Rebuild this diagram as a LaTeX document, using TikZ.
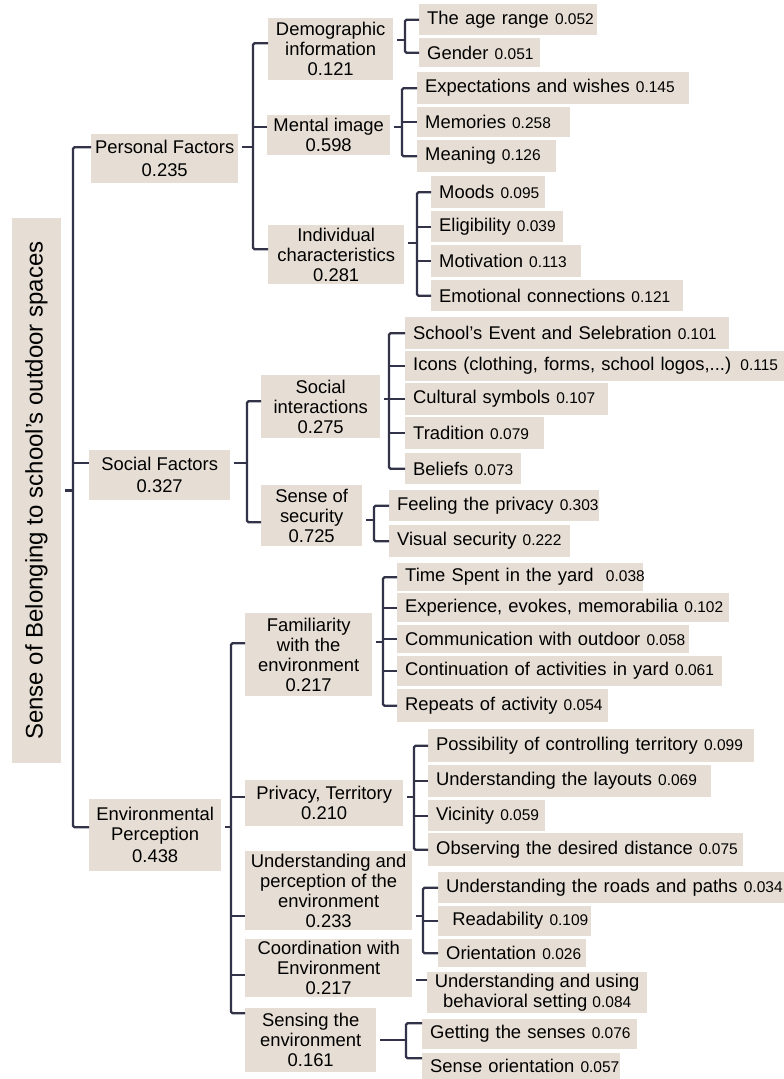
\documentclass[tikz,border=0pt]{standalone}
\usepackage{fontspec}
\setmainfont{Liberation Sans}
\definecolor{boxfill}{RGB}{230,222,212}
\definecolor{linec}{RGB}{50,50,72}
\newcommand\nm[1]{{\fontsize{15.5}{18}\selectfont #1}}
\begin{document}
\begin{tikzpicture}[x=1pt,y=-1pt,
 base/.style={fill=boxfill, anchor=north west, inner sep=0pt, font=\fontsize{18.4}{20}\selectfont},
 mid/.style={base, align=center},
 leaf/.style={base, inner xsep=8pt, align=left},
 conn/.style={draw=linec, line width=2.2pt, rounded corners=1.5pt},
 pstub/.style={conn, shorten <=4pt}]
\useasboundingbox (0,0) rectangle (784,1079);

% root
\node[fill=boxfill, inner sep=0pt, rotate=90, minimum width=545pt, minimum height=49pt,
  font=\fontsize{24}{26}\selectfont] (root) at (36.5,490.5) {Sense of Belonging to school's outdoor spaces};

% level 1
\node[mid, minimum width=147pt, minimum height=49pt] (pf) at (91,134) {Personal Factors\\[3pt]0.235};
\node[mid, minimum width=141pt, minimum height=50pt] (sf) at (89,450) {Social Factors\\[2pt]0.327};
\node[mid, minimum width=132pt, minimum height=72pt] (ep) at (89,799) {Environmental\\Perception\\[2pt]0.438};

% level 2
\node[mid, minimum width=125pt, minimum height=62pt] (di) at (268,18) {Demographic\\information\\0.121};
\node[mid, minimum width=123pt, minimum height=40pt] (mi) at (267,115) {Mental image\\0.598};
\node[mid, minimum width=136pt, minimum height=59pt] (ic) at (268,225) {Individual\\characteristics\\0.281};
\node[mid, minimum width=119pt, minimum height=63pt] (si) at (261,375) {Social\\interactions\\0.275};
\node[mid, minimum width=101pt, minimum height=61pt] (ss) at (261,485) {Sense of\\security\\0.725};
\node[mid, minimum width=127pt, minimum height=83pt] (fe) at (245,613) {Familiarity\\with the\\environment\\0.217};
\node[mid, minimum width=158pt, minimum height=46pt] (pt) at (245,780) {Privacy, Territory\\0.210};
\node[mid, minimum width=167pt, minimum height=79pt] (up) at (245,851) {Understanding and\\perception of the\\environment\\0.233};
\node[mid, minimum width=167pt, minimum height=58pt] (ce) at (245,939) {Coordination with\\Environment\\0.217};
\node[mid, minimum width=131pt, minimum height=64pt] (se) at (245,1008) {Sensing the\\environment\\0.161};

% leaves
\node[leaf, text width=162pt, minimum height=31pt] (age) at (419,4) {\mbox{The age range \nm{0.052}}};
\node[leaf, text width=105pt, minimum height=29pt] (gender) at (419,38) {\mbox{Gender \nm{0.051}}};
\node[leaf, text width=256pt, minimum height=32pt] (expect) at (417,72) {\mbox{Expectations and wishes\ \nm{0.145}}};
\node[leaf, text width=137pt, minimum height=30pt] (memories) at (417,107) {\mbox{Memories\ \nm{0.258}}};
\node[leaf, text width=123pt, minimum height=32pt] (meaning) at (417,140) {\mbox{Meaning\ \nm{0.126}}};
\node[leaf, text width=98pt, minimum height=32pt] (moods) at (431,176) {\mbox{Moods \nm{0.095}}};
\node[leaf, text width=116pt, minimum height=31pt] (elig) at (431,211) {\mbox{Eligibility \nm{0.039}}};
\node[leaf, text width=134pt, minimum height=32pt] (motiv) at (431,245) {\mbox{Motivation\ \nm{0.113}}};
\node[leaf, text width=236pt, minimum height=31pt] (emot) at (431,280) {\mbox{Emotional connections\ \nm{0.121}}};
\node[leaf, text width=308pt, minimum height=32pt] (school) at (405,317) {\mbox{School's Event and Selebration\ \nm{0.101}}};
\node[leaf, text width=363pt, minimum height=30pt] (icons) at (405,351) {\mbox{Icons (clothing, forms, school logos,...) \nm{0.115}}};
\node[leaf, text width=187pt, minimum height=32pt] (cultural) at (405,383) {\mbox{Cultural symbols \nm{0.107}}};
\node[leaf, text width=123pt, minimum height=32pt] (tradition) at (405,417) {\mbox{Tradition\ \nm{0.079}}};
\node[leaf, text width=100pt, minimum height=31pt] (beliefs) at (405,453) {\mbox{Beliefs \nm{0.073}}};
\node[leaf, text width=194pt, minimum height=31pt] (feeling) at (389,490) {\mbox{Feeling the privacy \nm{0.303}}};
\node[leaf, text width=165pt, minimum height=32pt] (visual) at (389,525) {\mbox{Visual security \nm{0.222}}};
\node[leaf, text width=230pt, minimum height=28pt] (time) at (397,563) {\mbox{Time Spent in the yard\ \ \nm{0.038}}};
\node[leaf, text width=316pt, minimum height=29pt] (exper) at (397,593) {\mbox{Experience, evokes, memorabilia \nm{0.102}}};
\node[leaf, text width=276pt, minimum height=28pt] (commun) at (397,625) {\mbox{Communication with outdoor \nm{0.058}}};
\node[leaf, text width=309pt, minimum height=30pt] (contin) at (397,656) {\mbox{Continuation of activities in yard \nm{0.061}}};
\node[leaf, text width=195pt, minimum height=33pt] (repeats) at (397,689) {\mbox{Repeats of activity \nm{0.054}}};
\node[leaf, text width=310pt, minimum height=33pt] (possib) at (428,729) {\mbox{Possibility of controlling territory \nm{0.099}}};
\node[leaf, text width=267pt, minimum height=32pt] (layouts) at (428,765) {\mbox{Understanding the layouts\ \nm{0.069}}};
\node[leaf, text width=101pt, minimum height=31pt] (vicinity) at (428,800) {\mbox{Vicinity \nm{0.059}}};
\node[leaf, text width=299pt, minimum height=33pt] (observing) at (428,833) {\mbox{Observing the desired distance \nm{0.075}}};
\node[leaf, text width=330pt, minimum height=31pt] (roads) at (438,872) {\mbox{Understanding the roads and paths\ \nm{0.034}}};
\node[leaf, text width=137pt, minimum height=30pt] (readab) at (438,906) {\mbox{\ Readability \nm{0.109}}};
\node[leaf, text width=132pt, minimum height=28pt] (orient) at (438,939) {\mbox{Orientation\ \nm{0.026}}};
\node[mid, minimum width=220pt, minimum height=41pt] (behav) at (427,972) {Understanding and using\\behavioral setting \nm{0.084}};
\node[leaf, text width=199pt, minimum height=30pt] (senses) at (422,1019) {\mbox{Getting the senses\ \nm{0.076}}};
\node[leaf, text width=182pt, minimum height=26pt] (senseor) at (422,1053) {\mbox{Sense orientation \nm{0.057}}};

% connection points
\coordinate (pf-w) at ([yshift=11.5pt]pf.west); \coordinate (pf-e) at ([yshift=11.5pt]pf.east);
\coordinate (sf-w) at ([yshift=12pt]sf.west);   \coordinate (sf-e) at ([yshift=12pt]sf.east);
\coordinate (ep-w) at ([yshift=8pt]ep.west);    \coordinate (ep-e) at ([yshift=8pt]ep.east);
\coordinate (di-w) at ([yshift=6pt]di.west);    \coordinate (di-e) at ([yshift=9pt]di.east);
\coordinate (mi-w) at ([yshift=8pt]mi.west);    \coordinate (mi-e) at ([yshift=8pt]mi.east);
\coordinate (ic-w) at ([yshift=5.5pt]ic.west);  \coordinate (ic-e) at ([yshift=11.5pt]ic.east);
\coordinate (si-w) at ([yshift=5.5pt]si.west);  \coordinate (si-e) at ([yshift=7.5pt]si.east);
\coordinate (ss-w) at ([yshift=-6.5pt]ss.west); \coordinate (ss-e) at ([yshift=-4.5pt]ss.east);
\coordinate (fe-w) at ([yshift=11.5pt]fe.west); \coordinate (fe-e) at ([yshift=12.5pt]fe.east);
\coordinate (pt-w) at ([yshift=6pt]pt.west);    \coordinate (pt-e) at ([yshift=6pt]pt.east);
\coordinate (up-w) at ([yshift=-25.5pt]up.west);\coordinate (up-e) at ([yshift=-25.5pt]up.east);
\coordinate (ce-w) at ([yshift=-7pt]ce.west);   \coordinate (ce-e) at ([yshift=-12pt]ce.east);
\coordinate (se-w) at ([yshift=27pt]se.west);   \coordinate (se-e) at (se.east);
\coordinate (behav-w) at ([yshift=12.5pt]behav.west);
\coordinate (senses-w) at ([yshift=11pt]senses.west);
\coordinate (senseor-w) at ([yshift=8pt]senseor.west);

% bus lines
\coordinate (bT) at (73,0);   \coordinate (bPF) at (253,0); \coordinate (bDI) at (405,0);
\coordinate (bMI) at (402,0); \coordinate (bIC) at (417,0); \coordinate (bSF) at (247,0);
\coordinate (bSI) at (389,0); \coordinate (bSS) at (374,0); \coordinate (bEP) at (231,0);
\coordinate (bFE) at (383,0); \coordinate (bPT) at (414,0); \coordinate (bUP) at (423,0);
\coordinate (bSE) at (406,0);

% trunk
\draw[pstub] (root.south) -- (bT |- root.south);
\draw[conn] (pf-w) -| (bT |- ep-w) -- (ep-w);
\draw[conn] (bT |- sf-w) -- (sf-w);

% personal
\draw[pstub] (pf-e) -- (bPF |- pf-e);
\draw[conn] (di-w) -| (bPF |- ic-w) -- (ic-w);
\draw[conn] (bPF |- mi-w) -- (mi-w);

\draw[pstub] (di-e) -- (bDI |- di-e);
\draw[conn] (age.west) -| (bDI |- gender.west) -- (gender.west);

\draw[pstub] (mi-e) -- (bMI |- mi-e);
\draw[conn] (expect.west) -| (bMI |- meaning.west) -- (meaning.west);
\draw[conn] (bMI |- memories.west) -- (memories.west);

\draw[pstub] (ic-e) -- (bIC |- ic-e);
\draw[conn] (moods.west) -| (bIC |- emot.west) -- (emot.west);
\foreach \n in {elig,motiv} \draw[conn] (bIC |- \n.west) -- (\n.west);

% social
\draw[pstub] (sf-e) -- (bSF |- sf-e);
\draw[conn] (si-w) -| (bSF |- ss-w) -- (ss-w);

\draw[pstub] (si-e) -- (bSI |- si-e);
\draw[conn] (school.west) -| (bSI |- beliefs.west) -- (beliefs.west);
\foreach \n in {icons,cultural,tradition} \draw[conn] (bSI |- \n.west) -- (\n.west);

\draw[pstub] (ss-e) -- (bSS |- ss-e);
\draw[conn] (feeling.west) -| (bSS |- visual.west) -- (visual.west);

% environmental
\draw[pstub] (ep-e) -- (bEP |- ep-e);
\draw[conn] (fe-w) -| (bEP |- se-w) -- (se-w);
\foreach \n in {pt,up,ce} \draw[conn] (bEP |- \n-w) -- (\n-w);

\draw[pstub] (fe-e) -- (bFE |- fe-e);
\draw[conn] (time.west) -| (bFE |- repeats.west) -- (repeats.west);
\foreach \n in {exper,commun,contin} \draw[conn] (bFE |- \n.west) -- (\n.west);

\draw[pstub] (pt-e) -- (bPT |- pt-e);
\draw[conn] (possib.west) -| (bPT |- observing.west) -- (observing.west);
\foreach \n in {layouts,vicinity} \draw[conn] (bPT |- \n.west) -- (\n.west);

\draw[pstub] (up-e) -- (bUP |- up-e);
\draw[conn] (roads.west) -| (bUP |- orient.west) -- (orient.west);
\draw[conn] (bUP |- readab.west) -- (readab.west);

\draw[pstub] (ce-e) -- (behav-w);

\draw[pstub] (se-e) -- (bSE |- se-e);
\draw[conn] (senses-w) -| (bSE |- senseor-w) -- (senseor-w);
\end{tikzpicture}
\end{document}
